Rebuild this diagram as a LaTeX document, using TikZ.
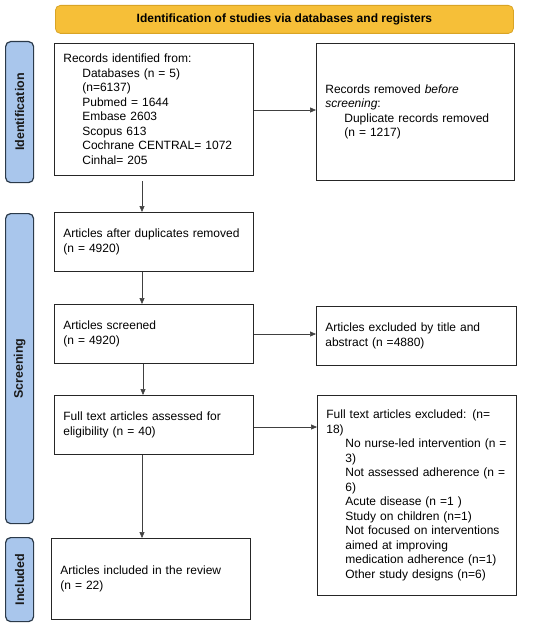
\documentclass[tikz,border=0pt]{standalone}
\usepackage{fontspec}
\setmainfont{Liberation Sans}
\usetikzlibrary{arrows.meta}
\definecolor{hdrfill}{HTML}{F6BF38}
\definecolor{hdrline}{HTML}{D9A425}
\definecolor{sidefill}{HTML}{A9C6EC}
\definecolor{sideline}{HTML}{2B3A4A}
\begin{document}
\begin{tikzpicture}[x=1pt,y=-1pt,
  box/.style={draw=black!85, line width=0.8pt, anchor=north west, align=left,
    inner xsep=9pt, inner ysep=0pt, font=\fontsize{12}{14.5}\selectfont},
  hdr/.style={draw=hdrline, fill=hdrfill, line width=0.8pt, rounded corners=5pt,
    anchor=north west, font=\bfseries\fontsize{12}{13}\selectfont},
  side/.style={draw=sideline, fill=sidefill, line width=1.2pt, rounded corners=5pt,
    anchor=north west},
  sidetext/.style={rotate=90, text=black!90, font=\bfseries\fontsize{12.5}{13}\selectfont},
  arr/.style={draw=black!75, line width=0.6pt, -{Triangle[length=6pt,width=5pt]}}]
\useasboundingbox (0,0) rectangle (550,626);
\fill[white] (0,0) rectangle (550,626);

\node[hdr, minimum width=458pt, minimum height=28pt] (hd) at (55,5) {Identification of studies via databases and registers};

\node[side, minimum width=28pt, minimum height=141pt] (s1) at (5,41) {};
\node[sidetext] (t1) at (s1.center) {Identification};
\node[side, minimum width=28pt, minimum height=310pt] (s2) at (5,213) {};
\node[sidetext] (t2) at (s2.center) {Screening};
\node[side, minimum width=28pt, minimum height=84pt] (s3) at (5,537) {};
\node[sidetext] (t3) at (s3.center) {Included};

\node[box, text width=181pt, minimum height=132pt] (rid) at (54,43) {Records identified from:\\
\hspace*{19pt}Databases (n = 5)\\
\hspace*{19pt}(n=6137)\\
\hspace*{19pt}Pubmed = 1644\\
\hspace*{19pt}Embase 2603\\
\hspace*{19pt}Scopus 613\\
\hspace*{19pt}Cochrane CENTRAL= 1072\\
\hspace*{19pt}Cinhal= 205};

\node[box, text width=180pt, minimum height=137pt] (rrm) at (316,43) {Records removed \textit{before}\\
\textit{screening}:\\
\hspace*{19pt}Duplicate records removed\\
\hspace*{19pt}(n = 1217)\\[6pt]};

\node[box, text width=181pt, minimum height=59pt] (adr) at (54,212) {Articles after duplicates removed\\(n = 4920)};

\node[box, text width=181pt, minimum height=59pt] (asc) at (54,304) {Articles screened\\(n = 4920)\\[2pt]};

\node[box, text width=182pt, minimum height=59pt] (aex) at (316,306) {Articles excluded by title and\\abstract (n =4880)};

\node[box, text width=181pt, minimum height=59pt] (fta) at (54,395) {Full text articles assessed for\\eligibility (n = 40)\\[2pt]};

\node[box, text width=181pt, minimum height=200pt] (fte) at (317,395) {Full text articles excluded: (n=\\
18)\\
\hspace*{19pt}No nurse-led intervention (n =\\
\hspace*{19pt}3)\\
\hspace*{19pt}Not assessed adherence (n =\\
\hspace*{19pt}6)\\
\hspace*{19pt}Acute disease (n =1 )\\
\hspace*{19pt}Study on children (n=1)\\
\hspace*{19pt}Not focused on interventions\\
\hspace*{19pt}aimed at improving\\
\hspace*{19pt}medication adherence (n=1)\\
\hspace*{19pt}Other study designs (n=6)};

\node[box, text width=181pt, minimum height=81pt] (inc) at (51,538) {Articles included in the review\\(n = 22)\\[10pt]};

\draw[arr] (rid.east |- 0,110) -- (rrm.west |- 0,110);
\coordinate (c1) at (142,181);
\draw[arr] (c1) -- (adr.north -| c1);
\draw[arr] (adr.south -| c1) -- (asc.north -| c1);
\draw[arr] (asc.east |- 0,334) -- (aex.west |- 0,334);
\draw[arr] (asc.south -| 143,0) -- (fta.north -| 143,0);
\draw[arr] (fta.east |- 0,427) -- (fte.west |- 0,427);
\draw[arr] (fta.south -| c1) -- (inc.north -| c1);
\end{tikzpicture}
\end{document}
